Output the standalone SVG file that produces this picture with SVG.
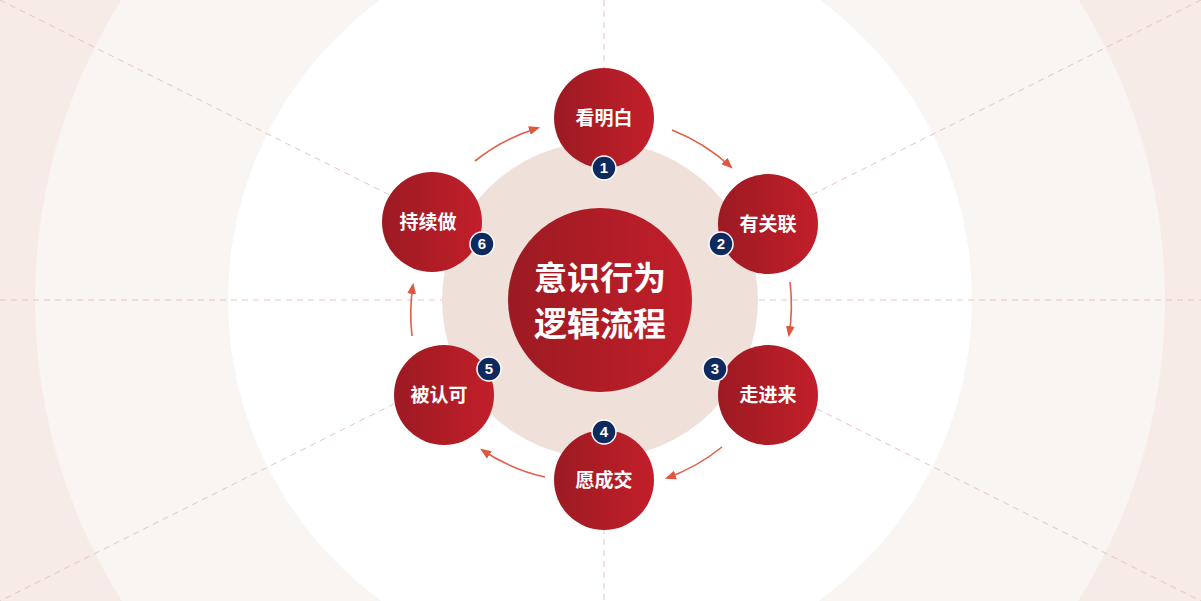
<svg xmlns="http://www.w3.org/2000/svg" width="1201" height="601" viewBox="0 0 1201 601">
<defs>
<linearGradient id="rg" x1="0" y1="0" x2="1" y2="0"><stop offset="0" stop-color="#9c1a22"/><stop offset="1" stop-color="#c21f2a"/></linearGradient>
<marker id="ah" viewBox="0 0 10 10" refX="8" refY="5" markerWidth="7" markerHeight="7" orient="auto"><path d="M0,1 L10,5 L0,9 z" fill="#e0573f"/></marker>
<style>
.dash{stroke:#e3c6bd;stroke-width:1;stroke-dasharray:6 5;fill:none}
.arr{stroke:#e0604a;stroke-width:1.6;fill:none;marker-end:url(#ah)}
.node{fill:url(#rg)}
.lbl{fill:#fff;font-family:"Noto Sans CJK SC","Noto Sans",sans-serif;font-weight:bold;font-size:19px;text-anchor:middle}
.bd{fill:#0f2a5e;stroke:#fff;stroke-width:1.5}
.bn{fill:#fff;font-family:"Liberation Sans",Arial,sans-serif;font-weight:bold;font-size:15px;text-anchor:middle}
</style>
</defs>
<rect width="1201" height="601" fill="#f7ebe7"/>
<circle cx="600" cy="300" r="565" fill="#f8f5f3"/>
<circle cx="600" cy="300" r="372" fill="#ffffff"/>
<g id="guides">
<line class="dash" x1="0" y1="0" x2="1201" y2="601"/>
<line class="dash" x1="1201" y1="0" x2="0" y2="601"/>
<line class="dash" x1="0" y1="300" x2="1201" y2="300"/>
<line class="dash" x1="604" y1="0" x2="604" y2="601"/>
</g>
<circle cx="600" cy="300" r="158" fill="#f0e0da"/>
<g id="connectors">
<path class="arr" d="M672,130 A188,188 0 0 1 731,167"/>
<path class="arr" d="M790,282 A188,188 0 0 1 789,335"/>
<path class="arr" d="M722,447 A188,188 0 0 1 667,478"/>
<path class="arr" d="M545,477 A188,188 0 0 1 482,450"/>
<path class="arr" d="M412,336 A188,188 0 0 1 413,285"/>
<path class="arr" d="M475,161 A188,188 0 0 1 538,128"/>
</g>
<g id="center"><circle class="node" cx="600" cy="300" r="92"/>
<text class="lbl" x="600" y="290" style="font-size:33px">意识行为</text>
<text class="lbl" x="600" y="336" style="font-size:33px">逻辑流程</text></g>
<g id="n1"><circle class="node" cx="604" cy="118" r="50"/><text class="lbl" x="604" y="125">看明白</text><circle class="bd" cx="604" cy="168" r="12"/><text class="bn" x="604" y="173">1</text></g>
<g id="n2"><circle class="node" cx="768" cy="224" r="50"/><text class="lbl" x="768" y="231">有关联</text><circle class="bd" cx="721" cy="244" r="12"/><text class="bn" x="721" y="249">2</text></g>
<g id="n3"><circle class="node" cx="768" cy="395" r="50"/><text class="lbl" x="768" y="402">走进来</text><circle class="bd" cx="715" cy="369" r="12"/><text class="bn" x="715" y="374">3</text></g>
<g id="n4"><circle class="node" cx="604" cy="480" r="50"/><text class="lbl" x="604" y="487">愿成交</text><circle class="bd" cx="604" cy="432" r="12"/><text class="bn" x="604" y="437">4</text></g>
<g id="n5"><circle class="node" cx="444" cy="395" r="50"/><text class="lbl" x="439" y="402">被认可</text><circle class="bd" cx="489" cy="369" r="12"/><text class="bn" x="489" y="374">5</text></g>
<g id="n6"><circle class="node" cx="432" cy="222" r="50"/><text class="lbl" x="428" y="229">持续做</text><circle class="bd" cx="482" cy="244" r="12"/><text class="bn" x="482" y="249">6</text></g>
</svg>
